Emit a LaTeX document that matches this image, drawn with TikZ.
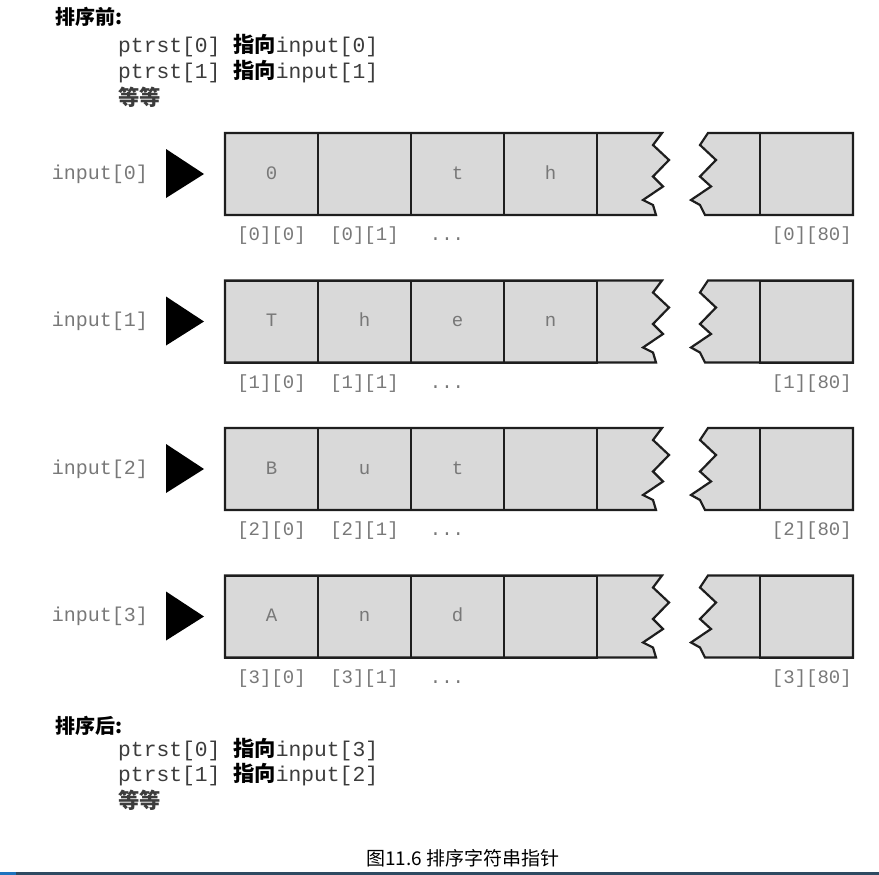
\documentclass[tikz,border=0pt]{standalone}
\usepackage{fontspec}
\setmonofont{Liberation Mono}
\newfontfamily\cjk{Noto Sans CJK SC}
\definecolor{CellClr}{HTML}{D9D9D9}
\definecolor{LineClr}{HTML}{1E1E1E}
\definecolor{LabClr}{HTML}{787878}
\definecolor{CodeClr}{HTML}{3C3C3C}
\definecolor{BarClr}{HTML}{2E4A62}
\definecolor{TabClr}{HTML}{1E73BE}

\tikzset{
  arr/.style={fill=CellClr,draw=LineClr,line width=2.2pt,line join=miter},
  cell/.style={draw=LineClr,line width=2pt,minimum width=93pt,minimum height=82pt,inner sep=0pt,
    text height=12pt,text depth=2pt,font=\ttfamily\fontsize{19}{19}\selectfont,text=LabClr},
  lab/.style={font=\ttfamily\fontsize{20}{20}\selectfont,text=LabClr,inner sep=0pt},
  idx/.style={font=\ttfamily\fontsize{19}{19}\selectfont,text=LabClr,inner sep=0pt,
    text height=13pt,text depth=4pt},
  head/.style={font=\cjk\bfseries\fontsize{20}{20}\selectfont,text=black,inner sep=0pt,anchor=west},
  code/.style={font=\ttfamily\fontsize{21.3}{21.3}\selectfont,text=CodeClr,inner sep=0pt,anchor=west},
  capt/.style={font=\cjk\fontsize{19}{19}\selectfont,text=black,inner sep=0pt}
}
\newcommand\zh[1]{{\cjk\bfseries\color{black}#1}}

\begin{document}
\begin{tikzpicture}[x=1pt,y=-1pt]
\useasboundingbox (0,0) rectangle (879,875);

% before sorting
\node[head] (before) at (55,17) {排序前:};
\node[code] (b0) at (118,46) {ptrst[0] \zh{指向}input[0]};
\node[code] (b1) at (118,72) {ptrst[1] \zh{指向}input[1]};
\node[code] (b2) at (118,97) {\zh{\color{CodeClr}等等}};

% the four rows of input[][]
\foreach \r/\a/\b/\c/\d in {0/0//t/h,1/T/h/e/n,2/B/u/t/,3/A/n/d/}{
  \pgfmathsetmacro\t{133+147.5*\r}
  \begin{scope}[shift={(0,\t)}]
    \filldraw[arr] (225,0) -- (662,0) -- (653,12) -- (669,27) -- (653,43.5) -- (663,53.5)
      -- (643,67) -- (653,72) -- (656,82) -- (225,82) -- cycle;
    \filldraw[arr] (708,0) -- (853,0) -- (853,82) -- (705,82) -- (700,72) -- (691,67)
      -- (711,53.5) -- (700,43.5) -- (716,27) -- (700,12) -- cycle;
    \foreach \v [count=\i from 0] in {\a,\b,\c,\d}
      \node[cell] (c\r-\i) at (271.5+93*\i,41) {\v};
    \node[cell] (c\r-80) at (806.5,41) {};
    % pointer
    \node[lab,anchor=east] (in\r) at (148,41) {input[\r]};
    \fill[black] (166,16) -- (204,41) -- (166,65) -- cycle;
    % subscripts
    \node[idx] (i\r-0) at (271.5,103) {[\r][0]};
    \node[idx] (i\r-1) at (364.5,103) {[\r][1]};
    \node[idx] (i\r-d) at (447,103) {...};
    \node[idx,anchor=east] (i\r-80) at (852,103) {[\r][80]};
  \end{scope}
}

% after sorting
\node[head] (after) at (55,726) {排序后:};
\node[code] (a0) at (118,750) {ptrst[0] \zh{指向}input[3]};
\node[code] (a1) at (118,775) {ptrst[1] \zh{指向}input[2]};
\node[code] (a2) at (118,800) {\zh{\color{CodeClr}等等}};

\node[capt] (cap) at (463,858) {图11.6 排序字符串指针};

\fill[BarClr] (0,872) rectangle (879,875);
\fill[TabClr] (0,872) rectangle (16,875);
\end{tikzpicture}
\end{document}
